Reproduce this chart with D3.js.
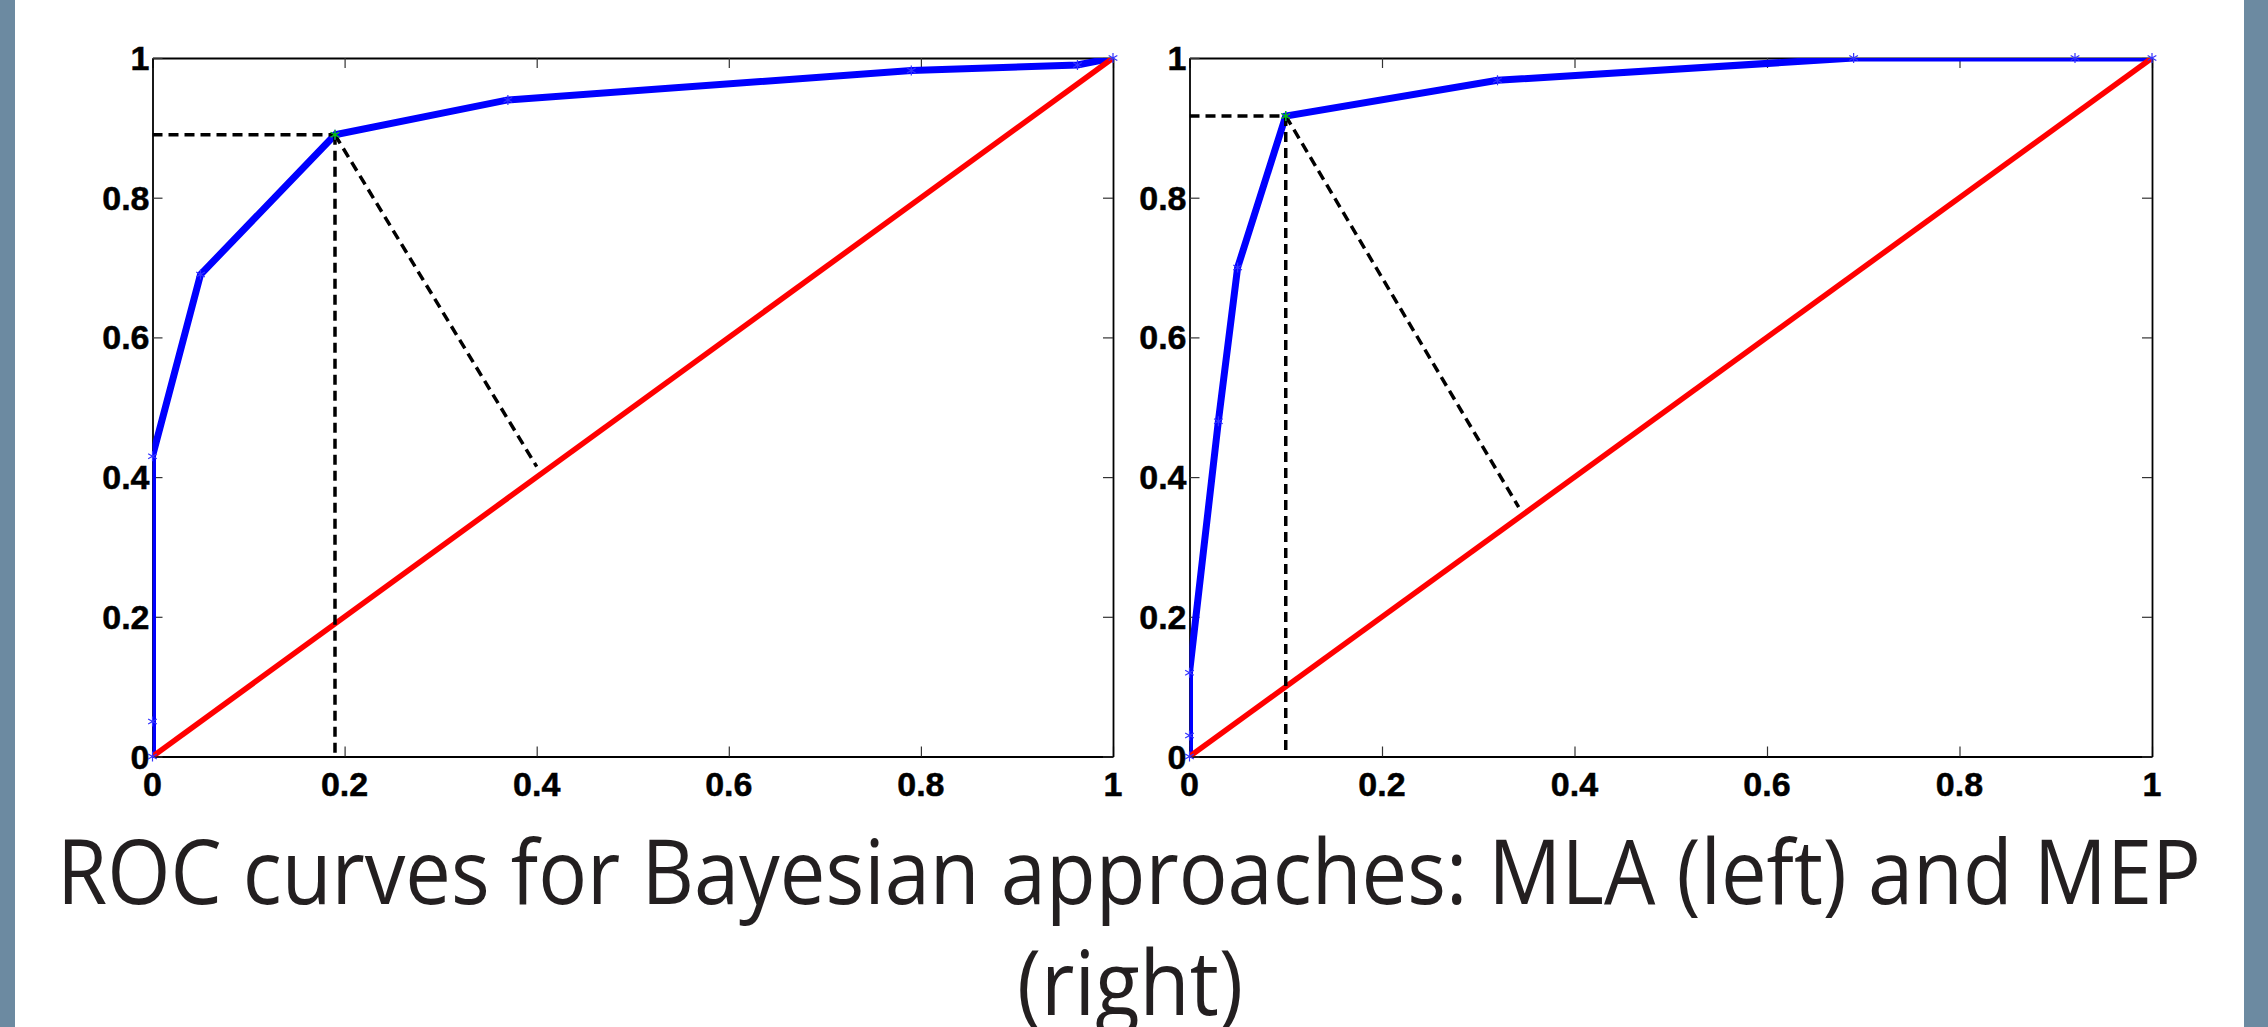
<!DOCTYPE html>
<html>
<head>
<meta charset="utf-8">
<script src="https://cdn.jsdelivr.net/npm/d3@7"></script>
<style>
  html, body { margin: 0; padding: 0; background: #fff; }
  svg { display: block; }
  .tick-label { font-family: "Liberation Sans", Arial, sans-serif; font-weight: bold; font-size: 34px; fill: #000; stroke: #000; stroke-width: 0.5px; }
  .title { font-family: "Open Sans", "Noto Sans", sans-serif; font-size: 90px; fill: #231f20; }
</style>
</head>
<body>
<svg width="2268" height="1027"></svg>
<script>
// ticks shared by both panels
var ticks = [0, 0.2, 0.4, 0.6, 0.8, 1];
var tickLabels = ["0", "0.2", "0.4", "0.6", "0.8", "1"];

// MLA (left) roc points
var mlaFpr = [0, 0, 0, 0.05, 0.19, 0.37, 0.79, 0.963, 1];
var mlaTpr = [0, 0.05, 0.43, 0.69, 0.89, 0.94, 0.982, 0.99, 1];
var mlaOpt = [0.19, 0.89];
var mlaDashEnd = [0.40, 0.415];

// MEP (right) roc points
var mepFpr = [0, 0, 0, 0.03, 0.05, 0.10, 0.32, 0.69, 0.92, 1];
var mepTpr = [0, 0.03, 0.12, 0.48, 0.70, 0.917, 0.968, 1, 1, 1];
var mepOpt = [0.10, 0.917];
var mepDashEnd = [0.342, 0.357];

var chance = [[0, 0], [1, 1]];

var titleLines = ["ROC curves for Bayesian approaches: MLA (left) and MEP", "(right)"];

var svg = d3.select("svg"),
  width = +svg.attr("width"),
  height = +svg.attr("height");

// slide side bars
svg.append("rect").attr("x", 0).attr("y", 0).attr("width", 15).attr("height", height).attr("fill", "#6c8aa1");
svg.append("rect").attr("x", 2244).attr("y", 0).attr("width", 24).attr("height", height).attr("fill", "#6c8aa1");

var yTop = 58, yBot = 756.5;

function drawPanel(id, left, right, fpr, tpr, opt, dashEnd) {
  var x = d3.scaleLinear().domain([0, 1]).range([left, right]);
  var y = d3.scaleLinear().domain([0, 1]).range([yBot, yTop]);
  var g = svg.append("g");

  g.append("clipPath").attr("id", id)
    .append("rect")
    .attr("x", left).attr("y", yTop)
    .attr("width", right - left).attr("height", yBot - yTop);

  // box + inward ticks on all sides
  g.append("g").attr("transform", "translate(0," + yBot + ")")
    .call(d3.axisBottom(x).tickValues(ticks).tickSizeInner(-10).tickSizeOuter(0).tickFormat(""));
  g.append("g").attr("transform", "translate(0," + yTop + ")")
    .call(d3.axisTop(x).tickValues(ticks).tickSizeInner(-10).tickSizeOuter(0).tickFormat(""));
  g.append("g").attr("transform", "translate(" + left + ",0)")
    .call(d3.axisLeft(y).tickValues(ticks).tickSizeInner(-10).tickSizeOuter(0).tickFormat(""));
  g.append("g").attr("transform", "translate(" + right + ",0)")
    .call(d3.axisRight(y).tickValues(ticks).tickSizeInner(-10).tickSizeOuter(0).tickFormat(""));
  g.selectAll(".domain").attr("stroke", "#000").attr("stroke-width", 1.8);
  g.selectAll(".tick line").attr("stroke", "#333").attr("stroke-width", 1.2);

  g.selectAll(".xlab").data(ticks).enter().append("text")
    .attr("class", "tick-label")
    .attr("x", function (d) { return x(d); })
    .attr("y", 796)
    .attr("text-anchor", "middle")
    .text(function (d, i) { return tickLabels[i]; });

  g.selectAll(".ylab").data(ticks).enter().append("text")
    .attr("class", "tick-label")
    .attr("x", left - 3)
    .attr("y", function (d) { return y(d) + 12; })
    .attr("text-anchor", "end")
    .text(function (d, i) { return tickLabels[i]; });

  var plot = g.append("g").attr("clip-path", "url(#" + id + ")");
  var pts = fpr.map(function (v, i) { return [v, tpr[i]]; });
  var line = d3.line().x(function (d) { return x(d[0]); }).y(function (d) { return y(d[1]); });

  plot.append("path").datum(pts)
    .attr("d", line)
    .attr("fill", "none").attr("stroke", "#0000ff")
    .attr("stroke-width", 7).attr("stroke-linejoin", "miter");

  var star = d3.symbol().type(d3.symbolAsterisk).size(70);
  g.selectAll(".mk").data(pts).enter().append("path")
    .attr("d", star)
    .attr("transform", function (d) { return "translate(" + x(d[0]) + "," + y(d[1]) + ")"; })
    .attr("fill", "none").attr("stroke", "#3333ff").attr("stroke-width", 1.2);

  plot.append("path").datum(chance)
    .attr("d", line)
    .attr("fill", "none").attr("stroke", "#ff0000").attr("stroke-width", 5.5);

  var dashes = [
    [[0, opt[1]], opt],
    [opt, [opt[0], 0]],
    [opt, dashEnd]
  ];
  plot.selectAll(".dash").data(dashes).enter().append("path")
    .attr("d", line)
    .attr("fill", "none").attr("stroke", "#000")
    .attr("stroke-width", 3.5).attr("stroke-dasharray", "10,6");

  g.append("path")
    .attr("d", star)
    .attr("transform", "translate(" + x(opt[0]) + "," + y(opt[1]) + ")")
    .attr("fill", "none").attr("stroke", "#00cc00").attr("stroke-width", 1.2);
}

drawPanel("clipL", 152.5, 1113, mlaFpr, mlaTpr, mlaOpt, mlaDashEnd);
drawPanel("clipR", 1189.5, 2152, mepFpr, mepTpr, mepOpt, mepDashEnd);

svg.append("text").attr("class", "title")
  .attr("x", 57).attr("y", 904)
  .attr("textLength", 2144).attr("lengthAdjust", "spacingAndGlyphs")
  .text(titleLines[0]);
svg.append("text").attr("class", "title")
  .attr("x", 1017).attr("y", 1015)
  .attr("textLength", 226).attr("lengthAdjust", "spacingAndGlyphs")
  .text(titleLines[1]);
</script>
</body>
</html>
